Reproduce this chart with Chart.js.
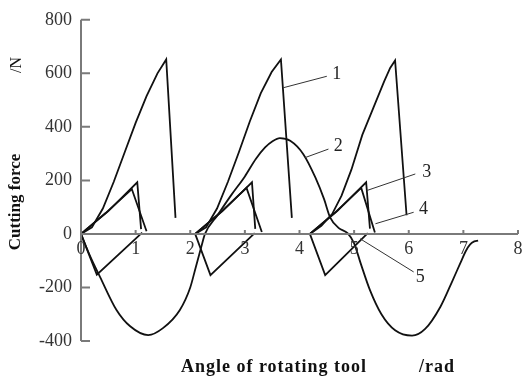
<!DOCTYPE html>
<html>
<head>
<meta charset="utf-8">
<script src="https://cdn.jsdelivr.net/npm/chart.js@4.4.1/dist/chart.umd.min.js"></script>
<style>
  html, body { margin: 0; padding: 0; background: #fff; }
</style>
</head>
<body>
<canvas id="forceChart" width="523" height="376"></canvas>
<script>
// tick values
const xTicks = [0, 1, 2, 3, 4, 5, 6, 7, 8];
const yTicks = [-400, -200, 0, 200, 400, 600, 800];

// curve 1 - three cuts, null breaks between them
const curve1 = [
  [0, 0], [0.2, 25], [0.4, 95], [0.6, 195], [0.8, 305], [1.0, 415], [1.2, 515], [1.4, 600], [1.56, 652], [1.73, 60],
  [1.8, null],
  [2.09, 0], [2.29, 25], [2.49, 95], [2.69, 195], [2.89, 305], [3.09, 420], [3.29, 525], [3.49, 605], [3.66, 652], [3.86, 60],
  [3.95, null],
  [4.19, 0], [4.4, 30], [4.6, 75], [4.77, 143], [4.95, 240], [5.15, 370], [5.35, 470], [5.55, 570], [5.66, 620], [5.75, 648], [5.96, 70]
];

// curve 2 - the long wave
const curve2 = [
  [0, 0], [0.15, -75], [0.35, -161], [0.65, -284], [0.9, -345], [1.23, -378], [1.5, -352], [1.81, -284],
  [2.0, -200], [2.1, -125], [2.2, -50], [2.27, 0], [2.5, 70], [2.75, 145], [3.0, 215], [3.2, 280], [3.37, 323],
  [3.5, 345], [3.64, 358], [3.83, 348], [4.07, 298], [4.29, 211], [4.45, 130], [4.56, 62], [4.72, 22], [4.88, 3],
  [5.0, -35], [5.12, -110], [5.29, -210], [5.5, -300], [5.75, -360], [6.06, -380], [6.3, -355], [6.58, -272],
  [6.8, -175], [6.94, -111], [7.05, -62], [7.12, -40], [7.2, -28], [7.27, -25]
];

// curve 3
const curve3 = [
  [0, 0], [0.5, 85], [1.03, 193], [1.1, 18],
  [1.5, null],
  [2.09, 0], [2.59, 85], [3.13, 193], [3.19, 19],
  [3.6, null],
  [4.19, 0], [4.69, 85], [5.22, 193], [5.29, 20]
];

// curve 4
const curve4 = [
  [0, 0], [0.45, 78], [0.93, 168], [1.2, 10],
  [1.5, null],
  [2.09, 0], [2.54, 78], [3.03, 172], [3.31, 7],
  [3.6, null],
  [4.19, 0], [4.64, 78], [5.13, 172], [5.38, 5]
];

// curve 5
const curve5 = [
  [0, 0], [0.29, -152], [1.12, 5],
  [1.5, null],
  [2.09, 0], [2.37, -154], [3.18, 3],
  [3.6, null],
  [4.19, 0], [4.47, -154], [5.25, 3]
];

const curveNames = ['1', '2', '3', '4', '5'];
const curveData = [curve1, curve2, curve3, curve4, curve5];

const serif = '"Liberation Serif", "DejaVu Serif", serif';

// leader lines for the curve numbers (data units)
const callouts = [
  { text: '1', from: [3.70, 546], to: [4.50, 589], at: [4.68, 598] },
  { text: '2', from: [4.10, 285], to: [4.53, 317], at: [4.71, 329] },
  { text: '3', from: [5.23, 162], to: [6.12, 224], at: [6.33, 230] },
  { text: '4', from: [5.39, 38], to: [6.09, 81], at: [6.27, 94] },
  { text: '5', from: [5.11, -18], to: [6.09, -142], at: [6.21, -161] }
];

const axesPlugin = {
  id: 'axesPlugin',
  afterDraw(chart) {
    const ctx = chart.ctx;
    const xs = chart.scales.x;
    const ys = chart.scales.y;
    const left = chart.chartArea.left;
    const y0 = ys.getPixelForValue(0);

    ctx.save();
    ctx.strokeStyle = '#7a7a7a';
    ctx.lineWidth = 2;

    // y axis + inward ticks
    ctx.beginPath();
    ctx.moveTo(left, ys.getPixelForValue(800));
    ctx.lineTo(left, ys.getPixelForValue(-400));
    yTicks.forEach(v => {
      const py = ys.getPixelForValue(v);
      ctx.moveTo(left, py);
      ctx.lineTo(left + 9, py);
    });
    ctx.stroke();

    // x axis at y = 0
    ctx.beginPath();
    ctx.moveTo(xs.getPixelForValue(0), y0);
    ctx.lineTo(xs.getPixelForValue(8), y0);
    xTicks.forEach(v => {
      const px = xs.getPixelForValue(v);
      ctx.moveTo(px, y0);
      ctx.lineTo(px, y0 - 4);
    });
    ctx.stroke();

    // x tick labels
    ctx.fillStyle = '#333';
    ctx.font = '18px ' + serif;
    ctx.textAlign = 'center';
    ctx.textBaseline = 'top';
    xTicks.forEach(v => {
      ctx.fillText(String(v), xs.getPixelForValue(v), y0 + 6);
    });

    // callouts
    ctx.strokeStyle = '#333';
    ctx.lineWidth = 1;
    ctx.textAlign = 'center';
    ctx.textBaseline = 'middle';
    ctx.fillStyle = '#222';
    callouts.forEach(c => {
      ctx.beginPath();
      ctx.moveTo(xs.getPixelForValue(c.from[0]), ys.getPixelForValue(c.from[1]));
      ctx.lineTo(xs.getPixelForValue(c.to[0]), ys.getPixelForValue(c.to[1]));
      ctx.stroke();
      ctx.fillText(c.text, xs.getPixelForValue(c.at[0]), ys.getPixelForValue(c.at[1]));
    });

    // axis titles
    ctx.fillStyle = '#111';
    ctx.font = 'bold 18px ' + serif;
    ctx.letterSpacing = '1px';
    ctx.fillText('Angle of rotating tool', 274, 367);
    ctx.fillText('/rad', 437, 367);
    ctx.letterSpacing = '0px';

    ctx.save();
    ctx.translate(16, 202);
    ctx.rotate(-Math.PI / 2);
    ctx.font = 'bold 17px ' + serif;
    ctx.fillText('Cutting force', 0, 0);
    ctx.restore();

    ctx.save();
    ctx.translate(17, 65);
    ctx.rotate(-Math.PI / 2);
    ctx.font = '16px ' + serif;
    ctx.fillText('/N', 0, 0);
    ctx.restore();

    ctx.restore();
  }
};

const datasets = curveData.map((pts, i) => ({
  label: curveNames[i],
  data: pts.map(p => ({ x: p[0], y: p[1] })),
  showLine: true,
  borderColor: '#111',
  borderWidth: 1.8,
  pointRadius: 0,
  spanGaps: false,
  tension: 0,
  cubicInterpolationMode: i === 1 ? 'monotone' : 'default'
}));

const config = {
  type: 'scatter',
  data: { datasets: datasets },
  options: {
    responsive: false,
    animation: false,
    layout: {
      padding: { left: 0, right: 5, top: 18, bottom: 35 }
    },
    scales: {
      x: {
        type: 'linear',
        display: false,
        min: 0,
        max: 8
      },
      y: {
        type: 'linear',
        min: -400,
        max: 800,
        grid: { display: false, drawTicks: false },
        border: { display: false },
        ticks: {
          stepSize: 200,
          padding: 9,
          color: '#333',
          font: { family: serif, size: 18 }
        },
        afterFit: function(scale) {
          scale.width = 81;
        }
      }
    },
    plugins: {
      legend: { display: false },
      tooltip: { enabled: false }
    }
  },
  plugins: [axesPlugin]
};

const ctx = document.getElementById('forceChart').getContext('2d');
const forceChart = new Chart(ctx, config);
</script>
</body>
</html>
